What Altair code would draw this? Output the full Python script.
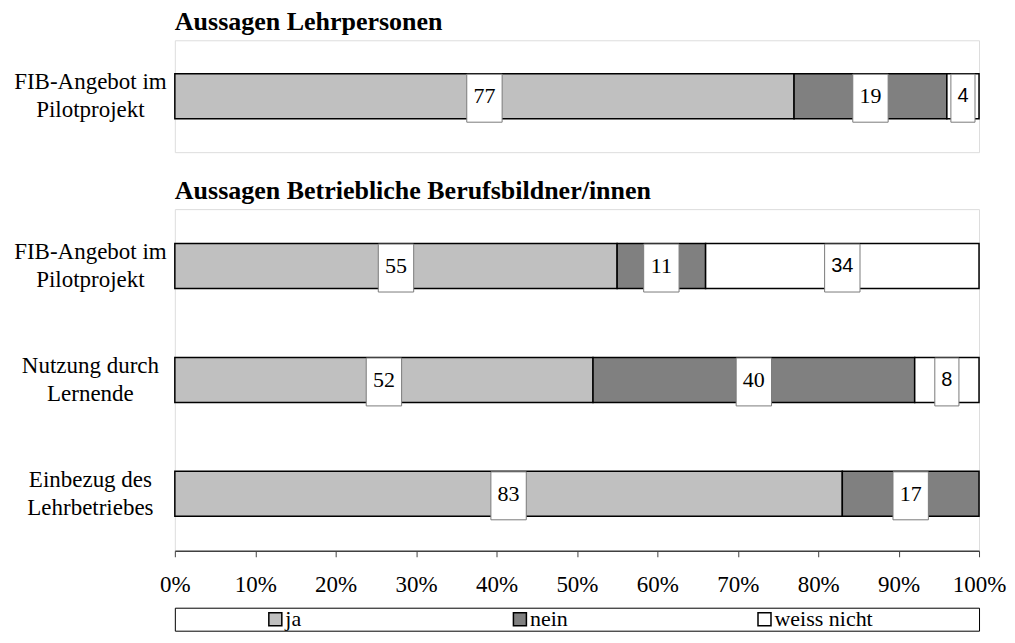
import altair as alt
import pandas as pd

# ---------------- data ----------------
answers = ["ja", "nein", "weiss nicht"]
answer_colors = ["#C0C0C0", "#808080", "#FFFFFF"]

panel_titles = ["Aussagen Lehrpersonen", "Aussagen Betriebliche Berufsbildner/innen"]

lehr_items = ["FIB-Angebot im\nPilotprojekt"]
lehr_ja = [77]
lehr_nein = [19]
lehr_wn = [4]

bb_items = ["FIB-Angebot im\nPilotprojekt", "Nutzung durch\nLernende", "Einbezug des\nLehrbetriebes"]
bb_ja = [55, 52, 83]
bb_nein = [11, 40, 17]
bb_wn = [34, 8, 0]

x_ticks = [0, 10, 20, 30, 40, 50, 60, 70, 80, 90, 100]


def make_rows(items, ja, nein, wn):
    rows = []
    for i, item in enumerate(items):
        for k, (ans, vals) in enumerate(zip(answers, [ja, nein, wn])):
            rows.append({"item": item, "answer": ans, "order": k, "value": vals[i]})
    return pd.DataFrame(rows)


lehr_df = make_rows(lehr_items, lehr_ja, lehr_nein, lehr_wn)
bb_df = make_rows(bb_items, bb_ja, bb_nein, bb_wn)

SERIF = "Liberation Serif"
SANS = "Liberation Sans"
W = 805

color_scale = alt.Scale(domain=answers, range=answer_colors)
x_scale = alt.Scale(domain=[0, 100], nice=False, zero=False)


def panel(df, title, items, height, show_axis):
    if show_axis:
        x_axis = alt.Axis(
            values=x_ticks, labelExpr="datum.value + '%'", title=None, grid=False,
            tickSize=6, tickColor="#404040", domainColor="#404040", domainWidth=1.5,
            labelFont=SERIF, labelFontSize=23, labelColor="black", labelPadding=17,
            labelFlush=False, labelOverlap=False,
        )
    else:
        x_axis = None
    y_enc = alt.Y(
        "item:N", sort=items,
        scale=alt.Scale(paddingInner=0, paddingOuter=0),
        axis=alt.Axis(
            title=None, labelExpr="split(datum.label, '\\n')", labelAlign="center",
            labelBaseline="middle", labelPadding=85, labelOffset=-14, labelFont=SERIF,
            labelFontSize=23, labelLineHeight=28, labelColor="black", labelLimit=300,
            ticks=False, domain=False,
        ),
    )
    base = (
        alt.Chart(df)
        .transform_filter("datum.value > 0")
        .transform_stack(stack="value", groupby=["item"], sort=[alt.SortField("order")], as_=["x0", "x1"])
        .transform_calculate(
            mid="(datum.x0 + datum.x1) / 2",
            hw="datum.value < 10 ? 1.5 : 2.2",
        )
        .transform_calculate(bx0="datum.mid - datum.hw", bx1="datum.mid + datum.hw")
    )
    bars = base.mark_bar(size=45, stroke="black", strokeWidth=1.5).encode(
        x=alt.X("x0:Q", scale=x_scale, axis=x_axis),
        x2="x1:Q",
        y=y_enc,
        color=alt.Color("answer:N", scale=color_scale, legend=None),
    )
    boxes = base.mark_bar(size=48, yOffset=2, fill="white", stroke="#7a7a7a", strokeWidth=1).encode(
        x=alt.X("bx0:Q", scale=x_scale, axis=x_axis),
        x2="bx1:Q",
        y=y_enc,
    )
    txt_serif = base.transform_filter("datum.answer != 'weiss nicht'").mark_text(
        font=SERIF, fontSize=22, baseline="middle", color="black"
    ).encode(x=alt.X("mid:Q", scale=x_scale, axis=x_axis), y=y_enc, text=alt.Text("value:Q", format="d"))
    txt_sans = base.transform_filter("datum.answer == 'weiss nicht'").mark_text(
        font=SANS, fontSize=20, baseline="middle", color="black"
    ).encode(x=alt.X("mid:Q", scale=x_scale, axis=x_axis), y=y_enc, text=alt.Text("value:Q", format="d"))
    return alt.layer(bars, boxes, txt_serif, txt_sans).properties(
        width=W, height=height,
        title=alt.TitleParams(
            text=title, anchor="start", frame="group", font=SERIF, fontSize=26,
            fontWeight="bold", color="black", offset=-16, baseline="alphabetic",
        ),
    )


top = panel(lehr_df, panel_titles[0], lehr_items, 112, False)
bottom = panel(bb_df, panel_titles[1], bb_items, 342, True)

legend_df = pd.DataFrame({"answer": answers})
leg_x = alt.X("answer:N", sort=answers, scale=alt.Scale(type="point", padding=0.644, align=0.319), axis=None)
leg_sw = alt.Chart(legend_df).mark_point(
    shape="square", size=169, filled=True, stroke="black", strokeWidth=1.5, opacity=1
).encode(x=leg_x, fill=alt.Fill("answer:N", scale=color_scale, legend=None))
leg_tx = alt.Chart(legend_df).mark_text(
    align="left", dx=10, font=SERIF, fontSize=22, baseline="middle", color="black"
).encode(x=leg_x, text="answer:N")
legend = alt.layer(leg_sw, leg_tx).properties(
    width=W, height=23, view=alt.ViewBackground(stroke="black", strokeWidth=1)
)

chart = (
    alt.vconcat(top, bottom, legend, spacing=57, bounds="flush")
    .properties(padding={"left": 5, "right": 0, "top": 0, "bottom": 0})
    .configure_view(stroke="#808080", strokeWidth=1.5)
    .configure(font=SERIF)
)

chart.save("out.html", embed_options={"renderer": "svg", "actions": False})
